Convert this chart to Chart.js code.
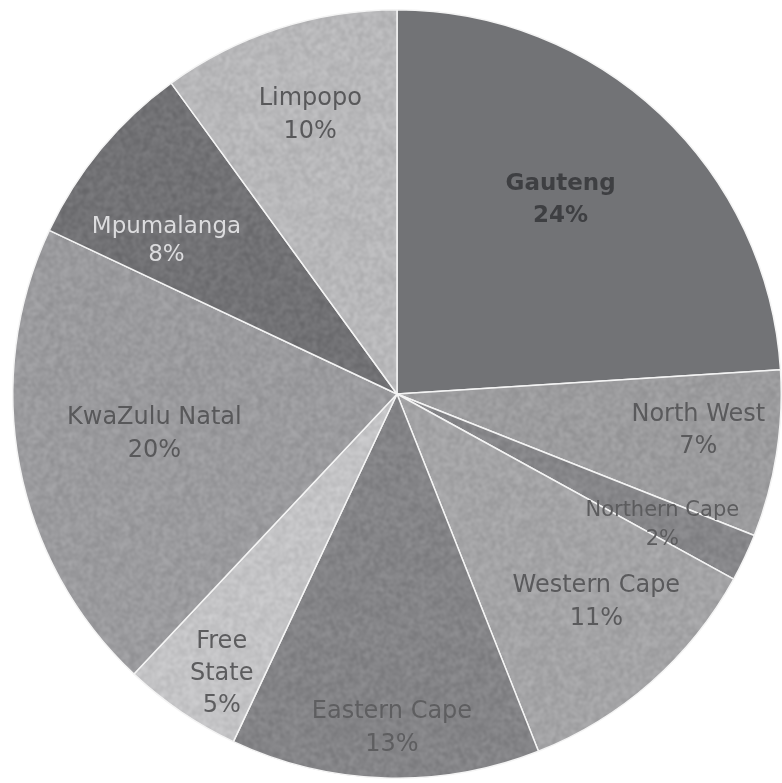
<!DOCTYPE html>
<html lang="en">
<head>
  <meta charset="UTF-8">
  <title>Provinces</title>
  <script src="https://cdn.jsdelivr.net/npm/chart.js"></script>
  <style>
    html, body { margin: 0; padding: 0; background: #fff; }
    #chart { display: block; }
  </style>
</head>
<body>
  <canvas id="chart" width="782" height="783"></canvas>

  <script>
    // share of total per province, clockwise from 12 o'clock
    const provinces = ['Gauteng', 'North West', 'Northern Cape', 'Western Cape', 'Eastern Cape',
                       'Free State', 'KwaZulu Natal', 'Mpumalanga', 'Limpopo'];
    const shares = [24, 7, 2, 11, 13, 5, 20, 8, 10];
    const labelLines = [['Gauteng'], ['North West'], ['Northern Cape'], ['Western Cape'], ['Eastern Cape'],
                        ['Free', 'State'], ['KwaZulu Natal'], ['Mpumalanga'], ['Limpopo']];

    // slice fills (grey shades) and whether they get the paper grain
    const fills = ['#727376', '#9c9c9e', '#87878a', '#a4a4a6', '#848487', '#c4c4c6', '#9b9b9e', '#727275', '#b8b8ba'];
    const grainy = [false, true, true, true, true, true, true, true, true];

    // label placement inside each slice: [fraction along the arc, fraction of radius]
    const labelSpots = [[0.465, 0.66], [0.42, 0.79], [0.65, 0.77], [0.44, 0.75], [0.48, 0.87],
                        [0.38, 0.86], [0.52, 0.64], [0.29, 0.72], [0.52, 0.76]];
    const labelFont = [
      { size: 23, weight: 'bold', color: '#3e3f42', lh: 32 },
      { size: 24, weight: 'normal', color: '#5a5a5c', lh: 32 },
      { size: 21, weight: 'normal', color: '#5c5c5e', lh: 29 },
      { size: 24, weight: 'normal', color: '#5a5a5c', lh: 33 },
      { size: 24, weight: 'normal', color: '#5e5e60', lh: 33 },
      { size: 24, weight: 'normal', color: '#5c5c5e', lh: 32 },
      { size: 24, weight: 'normal', color: '#58585a', lh: 33 },
      { size: 23, weight: 'normal', color: '#dcdcde', lh: 28 },
      { size: 24, weight: 'normal', color: '#58585a', lh: 33 }
    ];

    // repeating noise tile so the flat greys look like printed paper
    function grainPattern(hex, seed) {
      const cell = 64, scale = 2, size = cell * scale;
      const c = document.createElement('canvas');
      c.width = cell; c.height = cell;
      const g = c.getContext('2d');
      g.fillStyle = hex;
      g.fillRect(0, 0, cell, cell);
      const img = g.getImageData(0, 0, cell, cell);
      let s = seed * 9301 + 49297;
      const rnd = () => { s = (s * 1103515245 + 12345) % 2147483648; return s / 2147483648; };
      for (let i = 0; i < img.data.length; i += 4) {
        const d = (rnd() - 0.5) * 30;
        img.data[i] += d; img.data[i + 1] += d; img.data[i + 2] += d;
      }
      g.putImageData(img, 0, 0);
      // lay out 3x3 enlarged copies, then blur and keep the middle one so the tile wraps cleanly
      const big = document.createElement('canvas');
      big.width = size * 3; big.height = size * 3;
      const b = big.getContext('2d');
      for (let dx = 0; dx < 3; dx++) for (let dy = 0; dy < 3; dy++) {
        b.drawImage(c, dx * size, dy * size, size, size);
      }
      const out = document.createElement('canvas');
      out.width = size; out.height = size;
      const o = out.getContext('2d');
      o.filter = 'blur(0.8px)';
      o.drawImage(big, -size, -size);
      return o.createPattern(out, 'repeat');
    }

    const backgrounds = fills.map((f, i) => grainy[i] ? grainPattern(f, i + 3) : f);

    const sliceLabels = {
      id: 'sliceLabels',
      afterDatasetsDraw(chart) {
        const ctx = chart.ctx;
        const arcs = chart.getDatasetMeta(0).data;
        ctx.save();
        ctx.textAlign = 'center';
        ctx.textBaseline = 'middle';
        arcs.forEach((arc, i) => {
          const p = arc.getProps(['x', 'y', 'startAngle', 'endAngle', 'outerRadius'], true);
          const [t, rf] = labelSpots[i];
          const a = p.startAngle + (p.endAngle - p.startAngle) * t;
          const r = p.outerRadius * rf;
          const cx = p.x + Math.cos(a) * r;
          const cy = p.y + Math.sin(a) * r;
          const f = labelFont[i];
          const lines = labelLines[i].concat([shares[i] + '%']);
          ctx.font = `${f.weight} ${f.size}px "DejaVu Sans", sans-serif`;
          ctx.fillStyle = f.color;
          const top = cy - (lines.length - 1) * f.lh / 2;
          lines.forEach((ln, k) => ctx.fillText(ln, cx, top + k * f.lh));
        });
        ctx.restore();
      }
    };

    new Chart(document.getElementById('chart').getContext('2d'), {
      type: 'pie',
      data: {
        labels: provinces,
        datasets: [{
          data: shares,
          backgroundColor: backgrounds,
          borderColor: '#f4f4f4',
          borderWidth: 1.5
        }]
      },
      options: {
        responsive: false,
        animation: false,
        layout: { padding: { left: 12, right: 0, top: 9, bottom: 4 } },
        plugins: {
          legend: { display: false },
          tooltip: { enabled: false }
        }
      },
      plugins: [sliceLabels]
    });
  </script>
</body>
</html>
